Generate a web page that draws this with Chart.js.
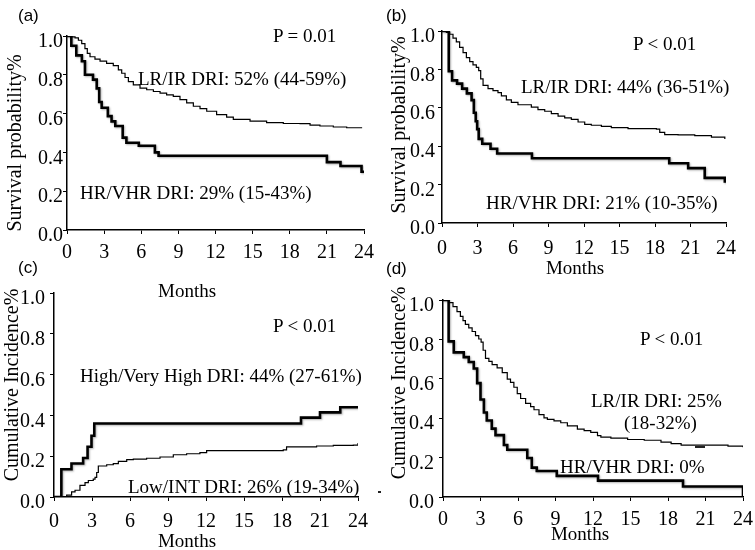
<!DOCTYPE html>
<html>
<head>
<meta charset="utf-8">
<script src="https://cdn.jsdelivr.net/npm/chart.js@4"></script>
<style>
  body { margin: 0; background: #fff; }
  #page { position: relative; width: 755px; height: 550px; overflow: hidden; }
  canvas { position: absolute; }
  .t { position: absolute; font-family: "Liberation Serif", serif; font-size: 19px; color: #000;
       line-height: 1; white-space: nowrap; transform: translateY(-50%); }
  .tag { font-family: "Liberation Sans", sans-serif; font-size: 17px; }
  .yt { position: absolute; font-family: "Liberation Serif", serif; font-size: 20px; color: #000;
        line-height: 1; white-space: nowrap; transform: translate(-50%, -50%) rotate(-90deg); }
  .xt { transform: translate(-50%, -50%); }
  .dash { position: absolute; height: 1.5px; background: #222; }
</style>
</head>
<body>
<div id="page">
  <canvas id="chartA"></canvas>
  <canvas id="chartB"></canvas>
  <canvas id="chartC"></canvas>
  <canvas id="chartD"></canvas>

  <div class="t tag" style="left:18px;top:15px">(a)</div>
  <div class="t tag" style="left:386px;top:15px">(b)</div>
  <div class="t tag" style="left:18px;top:267px">(c)</div>
  <div class="t tag" style="left:386px;top:268px">(d)</div>

  <div class="t" style="left:273px;top:35px">P = 0.01</div>
  <div class="t" style="left:138px;top:78px">LR/IR DRI: 52% (44-59%)</div>
  <div class="t" style="left:80px;top:192px">HR/VHR DRI: 29% (15-43%)</div>

  <div class="t" style="left:633px;top:43px">P &lt; 0.01</div>
  <div class="t" style="left:521px;top:86px">LR/IR DRI: 44% (36-51%)</div>
  <div class="t" style="left:486px;top:202px">HR/VHR DRI: 21% (10-35%)</div>

  <div class="t" style="left:158px;top:290px">Months</div>
  <div class="t" style="left:273px;top:325px">P &lt; 0.01</div>
  <div class="t" style="left:80px;top:375px">High/Very High DRI: 44% (27-61%)</div>
  <div class="t" style="left:128px;top:486px">Low/INT DRI: 26% (19-34%)</div>

  <div class="t" style="left:640px;top:338px">P &lt; 0.01</div>
  <div class="t" style="left:591px;top:400px">LR/IR DRI: 25%</div>
  <div class="t" style="left:624px;top:422px">(18-32%)</div>
  <div class="t" style="left:560px;top:466px">HR/VHR DRI: 0%</div>
  <div class="dash" style="left:695px;top:446px;width:10px"></div>
  <div class="dash" style="left:378px;top:491px;width:3px"></div>

  <div class="yt" style="left:14px;top:143px">Survival probability%</div>
  <div class="yt" style="left:398px;top:125px">Survival probability%</div>
  <div class="yt" style="left:11px;top:385px">Cumulative Incidence%</div>
  <div class="yt" style="left:398px;top:383px">Cumulative Incidence%</div>

  <div class="t xt" style="left:575px;top:267px">Months</div>
  <div class="t xt" style="left:187px;top:540px">Months</div>
  <div class="t xt" style="left:580px;top:533px">Months</div>
</div>
<script>
// (a)
const aLowMonths = [0, 0.38, 0.65, 0.92, 1.19, 1.45, 1.64, 1.86, 2.26, 2.67, 3.2, 3.74, 4.15, 4.42, 4.69, 4.96, 5.36, 5.9, 6.44, 6.98, 7.52, 8.05, 8.59, 9.13, 9.67, 10.21, 10.75, 11.29, 12.09, 12.9, 13.44, 14.79, 16.13, 17.48, 18.83, 19.64, 20.44, 21.52, 22.6, 23.8];
const aLowSurv = [1.0, 0.995, 0.99, 0.978, 0.961, 0.935, 0.91, 0.893, 0.881, 0.871, 0.859, 0.847, 0.825, 0.808, 0.786, 0.765, 0.748, 0.731, 0.723, 0.714, 0.706, 0.697, 0.689, 0.672, 0.655, 0.638, 0.626, 0.612, 0.595, 0.582, 0.57, 0.561, 0.553, 0.549, 0.548, 0.541, 0.536, 0.531, 0.527, 0.524];
const aHighMonths = [0, 0.35, 0.75, 1.2, 1.45, 2.1, 2.4, 2.6, 2.8, 3.3, 3.6, 3.9, 4.5, 4.8, 5.8, 7.1, 7.4, 21.0, 22.1, 23.8, 24];
const aHighSurv = [1.0, 0.95, 0.90, 0.87, 0.80, 0.775, 0.73, 0.66, 0.63, 0.587, 0.56, 0.536, 0.476, 0.45, 0.434, 0.40, 0.383, 0.35, 0.33, 0.30, 0.30];

// (b)
const bLowMonths = [0, 0.37, 0.65, 0.93, 1.21, 1.49, 1.78, 2.06, 2.34, 2.62, 2.9, 3.1, 3.27, 3.47, 3.89, 4.31, 4.73, 5.02, 5.44, 5.86, 6.42, 7.55, 8.11, 8.68, 9.24, 9.81, 10.37, 10.93, 11.5, 12.06, 12.62, 13.47, 14.31, 15.72, 18.12, 18.4, 18.82, 19.95, 21.36, 22.77, 23.9];
const bLowSurv = [1.0, 0.993, 0.983, 0.963, 0.943, 0.915, 0.887, 0.861, 0.841, 0.824, 0.811, 0.794, 0.751, 0.717, 0.70, 0.689, 0.679, 0.662, 0.641, 0.628, 0.616, 0.604, 0.591, 0.582, 0.57, 0.557, 0.548, 0.54, 0.526, 0.514, 0.509, 0.503, 0.497, 0.492, 0.489, 0.472, 0.46, 0.459, 0.455, 0.447, 0.438];
const bHighMonths = [0, 0.57, 0.85, 1.27, 1.7, 2.1, 2.5, 2.69, 2.85, 2.97, 3.1, 3.4, 4.1, 4.66, 7.6, 19.2, 20.8, 22.2, 23.9];
const bHighSurv = [1.0, 0.79, 0.743, 0.726, 0.70, 0.675, 0.64, 0.574, 0.53, 0.489, 0.438, 0.413, 0.387, 0.362, 0.337, 0.311, 0.286, 0.235, 0.21];

// (c)
const cHighMonths = [0, 0.58, 1.38, 2.3, 2.65, 2.96, 3.18, 19.5, 21.0, 22.6, 24];
const cHighInc = [0, 0.136, 0.164, 0.191, 0.246, 0.30, 0.36, 0.389, 0.415, 0.44, 0.44];
const cLowMonths = [0, 1.0, 1.39, 1.66, 2.05, 2.45, 2.71, 3.1, 3.24, 3.37, 3.5, 4.16, 4.68, 5.08, 5.74, 6.26, 7.31, 8.37, 9.42, 10.47, 11.52, 12.05, 18.1, 18.36, 20.73, 22.05, 23.63, 24.0];
const cLowInc = [0, 0.009, 0.025, 0.033, 0.057, 0.07, 0.081, 0.088, 0.096, 0.12, 0.152, 0.158, 0.164, 0.175, 0.183, 0.186, 0.19, 0.196, 0.207, 0.212, 0.218, 0.227, 0.231, 0.246, 0.25, 0.253, 0.254, 0.265];

// (d)
const dLowMonths = [0, 0.46, 0.8, 1.12, 1.39, 1.6, 1.79, 2.06, 2.33, 2.6, 2.86, 3.05, 3.21, 3.4, 3.67, 3.93, 4.33, 4.74, 5.14, 5.4, 5.67, 5.94, 6.21, 6.61, 7.01, 7.28, 7.68, 8.08, 8.35, 8.88, 9.42, 9.95, 10.75, 11.29, 11.82, 12.36, 12.63, 13.43, 14.77, 16.1, 17.44, 18.25, 19.05, 22.8, 24.0];
const dLowInc = [1.0, 0.987, 0.966, 0.941, 0.917, 0.895, 0.876, 0.859, 0.84, 0.819, 0.802, 0.786, 0.745, 0.704, 0.688, 0.672, 0.655, 0.631, 0.598, 0.582, 0.557, 0.525, 0.5, 0.475, 0.459, 0.443, 0.418, 0.402, 0.394, 0.386, 0.377, 0.361, 0.345, 0.337, 0.328, 0.312, 0.304, 0.299, 0.292, 0.288, 0.279, 0.271, 0.263, 0.258, 0.252];
const dHighMonths = [0, 0.45, 0.86, 1.66, 2.06, 2.46, 2.73, 3.0, 3.27, 3.5, 3.9, 4.2, 4.87, 5.14, 6.74, 7.1, 7.5, 9.1, 12.4, 19.2, 24];
const dHighInc = [1.0, 0.79, 0.734, 0.71, 0.685, 0.652, 0.578, 0.495, 0.429, 0.388, 0.347, 0.314, 0.264, 0.24, 0.198, 0.149, 0.132, 0.107, 0.083, 0.053, 0.0];

const monthTicks = [0, 3, 6, 9, 12, 15, 18, 21, 24];
const probTicks = [0, 0.2, 0.4, 0.6, 0.8, 1.0];

const tickFont = { family: "Liberation Serif", size: 20 };

// soft grey shadow under the heavy curves, like the scanned figure
const thickShadow = {
  id: "thickShadow",
  beforeDatasetDraw(chart, args) {
    const ctx = chart.ctx;
    ctx.save();
    if (args.meta._dataset.borderWidth > 2) {
      ctx.shadowColor = "rgba(0,0,0,0.3)";
      ctx.shadowBlur = 2;
      ctx.shadowOffsetX = 1;
      ctx.shadowOffsetY = 1;
    }
  },
  afterDatasetDraw(chart) {
    chart.ctx.restore();
  },
};

const makePanel = (id, box, lines, yPad, xPad) => {
  const W = 50, padTop = 10, padRight = 20, H = 40;
  const canvas = document.getElementById(id);
  canvas.width = W + (box.right - box.left) + padRight;
  canvas.height = padTop + (box.bottom - box.top) + H;
  canvas.style.left = (box.left - W) + "px";
  canvas.style.top = (box.top - padTop) + "px";

  const datasets = lines.map(l => ({
    data: l.x.map((m, i) => ({ x: m, y: l.y[i] })),
    borderColor: "#000",
    borderWidth: l.w,
    stepped: "before",
    pointRadius: 0,
    fill: false,
  }));

  return new Chart(canvas, {
    type: "line",
    data: { datasets },
    plugins: [thickShadow],
    options: {
      responsive: false,
      animation: false,
      layout: { padding: { top: padTop, right: padRight, left: 0, bottom: 0 } },
      plugins: { legend: { display: false }, tooltip: { enabled: false } },
      scales: {
        x: {
          type: "linear",
          min: 0,
          max: 24,
          afterFit: s => { s.height = H; },
          afterBuildTicks: s => { s.ticks = monthTicks.map(v => ({ value: v })); },
          ticks: { color: "#000", font: tickFont, padding: xPad, maxRotation: 0, autoSkip: false },
          grid: { drawOnChartArea: false, color: "#000", tickLength: 4 },
          border: { color: "#000", width: 1.5 },
        },
        y: {
          type: "linear",
          min: 0,
          max: 1,
          afterFit: s => { s.width = W; },
          afterBuildTicks: s => { s.ticks = probTicks.map(v => ({ value: v })); },
          ticks: { color: "#000", font: tickFont, padding: yPad, labelOffset: 6,
                   callback: v => v.toFixed(1) },
          grid: { drawOnChartArea: false, color: "#000", tickLength: 4 },
          border: { color: "#000", width: 1.5 },
        },
      },
    },
  });
};

makePanel("chartA", { left: 67, right: 364, top: 34, bottom: 230 }, [
  { x: aLowMonths, y: aLowSurv, w: 1.2 },
  { x: aHighMonths, y: aHighSurv, w: 2.6 },
], 0, 7);

makePanel("chartB", { left: 442, right: 726, top: 26, bottom: 223 }, [
  { x: bLowMonths, y: bLowSurv, w: 1.2 },
  { x: bHighMonths, y: bHighSurv, w: 2.6 },
], 3, 10);

makePanel("chartC", { left: 54, right: 358, top: 286, bottom: 497 }, [
  { x: cLowMonths, y: cLowInc, w: 1.2 },
  { x: cHighMonths, y: cHighInc, w: 2.6 },
], 5, 9);

makePanel("chartD", { left: 443, right: 743, top: 293, bottom: 497 }, [
  { x: dLowMonths, y: dLowInc, w: 1.2 },
  { x: dHighMonths, y: dHighInc, w: 2.6 },
], 5, 7);
</script>
</body>
</html>
